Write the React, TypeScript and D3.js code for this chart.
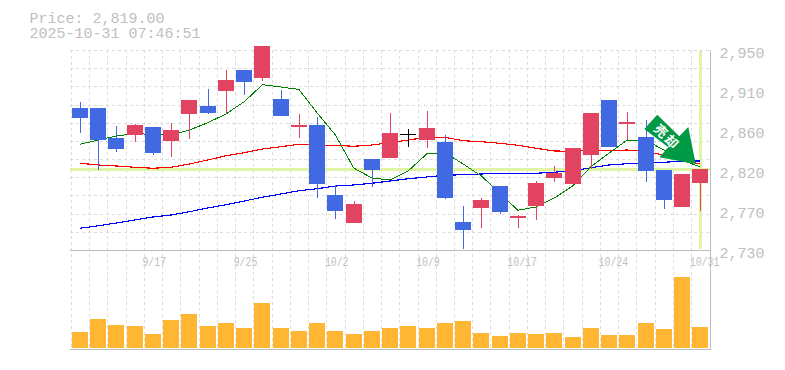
import React from "react";
import * as d3 from "d3";

const W = 785, H = 370;
const openP = [2886.2,2886,2853.5,2856.8,2865.3,2849.9,2879.6,2888.4,2904.9,2928,2919.2,2896.1,2865.3,2867.5,2790.5,2759.7,2830.1,2831.2,2857.6,2851,2848.8,2760.8,2776.2,2800.4,2765.2,2778.4,2809.2,2802.6,2834.5,2895,2868.6,2854.3,2818,2777.3,2803.7];
const closeP = [2875.2,2851,2841.4,2867.5,2837,2862,2895,2880.7,2917,2914.8,2954.4,2877.4,2867.5,2802.6,2772.9,2780.6,2818,2858.7,2857.6,2864.2,2787.2,2752,2785,2771.8,2767.4,2803.7,2814.7,2842.2,2880.7,2843.3,2870.8,2816.9,2785,2813.6,2819];
const highP = [2892.8,2886,2866.4,2868.6,2865.3,2869.7,2895,2907.1,2928,2928,2954.4,2906,2879.6,2876.3,2801.5,2783.9,2830.1,2880.7,2863.1,2882.9,2856.5,2778.4,2787.2,2800.4,2768.5,2805.9,2822.4,2842.2,2880.7,2895,2881.8,2873,2818,2813.6,2819];
const lowP = [2859,2818,2838.1,2848.8,2834.8,2832.3,2852.1,2879.6,2880.7,2900.5,2915.9,2877.4,2853.2,2787.2,2764.1,2759.7,2799.3,2831.2,2843.3,2842.2,2786.1,2731.1,2754.2,2769.6,2754.2,2763,2804.8,2802.6,2819.1,2843.3,2851,2804.8,2775.1,2777.3,2772.9];
const maGreen = [2846.3,2851,2855.4,2857.9,2857.3,2856.5,2862,2870,2879.6,2893.1,2911.8,2909.3,2906.6,2880.7,2856.5,2820.2,2809.2,2807,2817.2,2835.6,2837,2824.6,2811.4,2792.7,2773.7,2777.3,2787.2,2800.4,2821.6,2836.7,2851,2851,2840,2829,2821.3];
const maRed = [2825.4,2823.5,2822.4,2821,2819.9,2821,2824.6,2829,2833.7,2837,2841.1,2843.6,2846.3,2845.5,2845.2,2844.1,2845.5,2848,2851,2854,2854,2850.2,2849.1,2847.4,2845.2,2841.9,2838.9,2838.6,2840,2839.2,2840,2838.4,2834.5,2829,2824.6];
const maBlue = [2753.9,2756.7,2759.7,2763,2766.3,2768.5,2772.1,2776.2,2779.8,2783.9,2788,2791.6,2795.2,2797.4,2800.4,2801.5,2803.4,2805.9,2808.4,2810.3,2812.2,2812.8,2813.6,2814.4,2814.4,2814.4,2815.5,2817.2,2820.5,2823.5,2824.9,2825.7,2826.5,2827.6,2827.9];
const volume = [16,29,23,22,14,28,34,22,25,20,45,20,17,25,17,14,17,20,22,20,25,27,15,12,15,14,15,11,20,13,13,25,19,71,21];
const priceTicks = [2950,2906,2862,2818,2774,2730];
const dateTicks: [number,string][] = [[4,"9/17"],[9,"9/25"],[14,"10/2"],[19,"10/9"],[24,"10/17"],[29,"10/24"],[34,"10/31"]];
const currentPrice = 2819;

const UP = "#e24360", DOWN = "#4169e1", GRAY = "#bdbdbd", HILITE = "#e0f5a4", VOL = "#ffb733";
const MONO = "'Liberation Mono', monospace";

export default function App() {
  const n = openP.length;
  const x = d3.scaleLinear().domain([0, n - 1]).range([80, 700.3]);
  const step = x(1) - x(0);
  const y = d3.scaleLinear().domain([2730, 2950]).range([250, 50]);
  const yv = d3.scaleLinear().domain([0, 100]).range([348, 248]);
  const line = d3.line<number>().x((_, i) => x(i)).y(d => y(d));
  const fmt = d3.format(",.0f");
  const round10 = (v: number) => Math.round(v / 10) * 10;
  const px = (v: number) => Math.round(v);
  return (
    <svg width={W} height={H} style={{ position: "absolute", left: 0, top: 0, background: "#fff" }} shapeRendering="crispEdges">
      <g stroke="#dcdcdc" strokeDasharray="3 3">
        {d3.range(n).map(i => (
          <line key={i} x1={px(x(i) - step / 2) + 0.5} x2={px(x(i) - step / 2) + 0.5} y1={50} y2={350} />
        ))}
        {d3.range(12).map(i => (
          <line key={i} x1={70} x2={710} y1={px(50 + i * (200 / 11)) + 0.5} y2={px(50 + i * (200 / 11)) + 0.5} />
        ))}
      </g>
      <rect x={70} y={px(y(currentPrice)) - 1} width={640} height={3} fill={HILITE} />
      <rect x={px(x(n - 1)) - 1} y={51} width={3} height={198} fill={HILITE} />
      <g stroke={GRAY} strokeWidth={1}>
        <line x1={70} x2={710} y1={250.5} y2={250.5} />
        <line x1={70} x2={710} y1={349.5} y2={349.5} />
        <line x1={710.5} x2={710.5} y1={50} y2={350} />
      </g>
      {[[maBlue, "#0000ff"], [maRed, "#ff0000"], [maGreen, "#008000"]].map(([d, c]) => (
        <path key={c as string} d={line(d as number[]) || ""} fill="none" stroke={c as string} strokeWidth={c === "#008000" ? 1 : 1.15} />
      ))}
      {d3.range(n).map(i => {
        const flat = Math.abs(openP[i] - closeP[i]) < 0.01;
        const c = flat ? "#000" : closeP[i] > openP[i] ? UP : DOWN;
        const top = y(Math.max(openP[i], closeP[i]));
        const bot = y(Math.min(openP[i], closeP[i]));
        const cx = px(x(i));
        return (
          <g key={i}>
            <rect x={cx - 0.5} y={y(highP[i])} width={1} height={y(lowP[i]) - y(highP[i])} fill={c} />
            <rect x={cx - 8} y={px(top)} width={16} height={Math.max(flat ? 1 : 2, px(bot) - px(top))} fill={c} />
          </g>
        );
      })}
      {volume.map((v, i) => (
        <rect key={i} x={px(x(i)) - 8} y={yv(v)} width={16} height={348 - yv(v)} fill={VOL} />
      ))}
      <g fontFamily={MONO} fill="#c0c0c0" shapeRendering="auto">
        <text x={29.5} y={23} fontSize={15}>Price: 2,819.00</text>
        <text x={29.5} y={38} fontSize={15}>2025-10-31 07:46:51</text>
        {priceTicks.map(t => (
          <text key={t} x={719.5} y={y(t) + 8} fontSize={15}>{fmt(round10(t))}</text>
        ))}
        {dateTicks.map(([i, l]) => (
          <text key={l} x={x(i) - 10.5} y={265.5} fontSize={12} textLength={l.length * 5.9} lengthAdjust="spacingAndGlyphs">{l}</text>
        ))}
      </g>
      <g shapeRendering="auto">
        <polygon points="644.3,129 657.3,114.7 679.3,136.3 688.3,127 695.7,164 659.3,157.3 668.3,147.3" fill="#009944" />
        <g transform="translate(666,136.5) rotate(45)" fill="#fff" fontFamily="'Noto Sans CJK JP'" fontWeight={700} fontSize={13} textAnchor="middle">
          <text x={-7.5} y={4.5}>売</text>
          <text x={7.5} y={4.5}>却</text>
        </g>
      </g>
    </svg>
  );
}
